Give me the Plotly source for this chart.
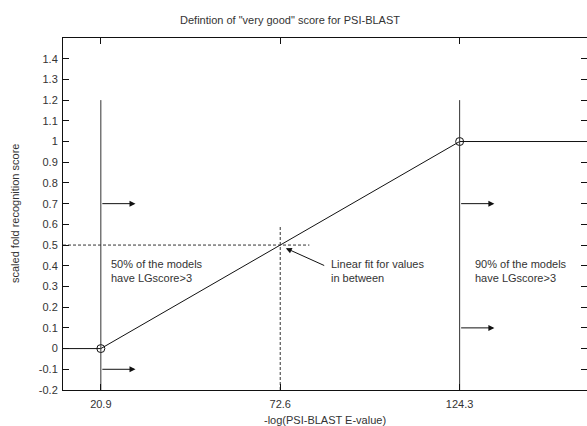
import plotly.graph_objects as go

# ---- data ----
curve_x = [10, 20.9, 124.3, 161]
curve_y = [0, 0, 1, 1]
marker_x = [20.9, 124.3]
marker_y = [0, 1]
solid_vlines_x = [20.9, 124.3]
solid_vline_y = [-0.2, 1.2]
dash_vline_x = 72.6
dash_vline_y = [-0.2, 0.59]
dash_hline_y = 0.5
dash_hline_x = [10, 81]
left_arrow_y = [0.7, -0.1]
right_arrow_y = [0.7, 0.1]
arrow_len = 10
x_tickvals = [20.9, 72.6, 124.3]
x_ticktext = ["20.9", "72.6", "124.3"]
y_tickvals = [-0.2, -0.1, 0, 0.1, 0.2, 0.3, 0.4, 0.5, 0.6, 0.7, 0.8, 0.9, 1.0, 1.1, 1.2, 1.3, 1.4]
y_ticktext = ["-0.2", "-0.1", "0", "0.1", "0.2", "0.3", "0.4", "0.5", "0.6", "0.7",
              "0.8", "0.9", "1", "1.1", "1.2", "1.3", "1.4"]
x_range = [10, 161]
y_range = [-0.2, 1.5]

FONT = "Liberation Sans, Arial, sans-serif"
TXT = "#333333"

fig = go.Figure()

fig.add_trace(go.Scatter(x=curve_x, y=curve_y, mode="lines",
                         line=dict(color="#111", width=1), showlegend=False, hoverinfo="skip"))
fig.add_trace(go.Scatter(x=marker_x, y=marker_y, mode="markers",
                         marker=dict(symbol="circle-open", size=8, color="#111", line=dict(width=1)),
                         showlegend=False, hoverinfo="skip"))
for vx in solid_vlines_x:
    fig.add_trace(go.Scatter(x=[vx, vx], y=solid_vline_y, mode="lines",
                             line=dict(color="#333", width=1), showlegend=False, hoverinfo="skip"))
fig.add_trace(go.Scatter(x=[dash_vline_x, dash_vline_x], y=dash_vline_y, mode="lines",
                         line=dict(color="#333", width=1, dash="3px,2px"), showlegend=False, hoverinfo="skip"))
fig.add_trace(go.Scatter(x=dash_hline_x, y=[dash_hline_y, dash_hline_y], mode="lines",
                         line=dict(color="#333", width=1, dash="3px,2px"), showlegend=False, hoverinfo="skip"))

annotations = []

def arrow(x0, y0, x1, y1):
    annotations.append(dict(x=x1, y=y1, ax=x0, ay=y0, xref="x", yref="y", axref="x", ayref="y",
                            text="", showarrow=True, arrowhead=2, arrowsize=1.2, arrowwidth=1,
                            arrowcolor="#111", standoff=0, startstandoff=0))

for yy in left_arrow_y:
    arrow(solid_vlines_x[0], yy, solid_vlines_x[0] + arrow_len, yy)
for yy in right_arrow_y:
    arrow(solid_vlines_x[1], yy, solid_vlines_x[1] + arrow_len, yy)
arrow(85.7, 0.398, 74.2, 0.485)

def label(x, y, text):
    annotations.append(dict(x=x, y=y, xref="x", yref="y", text=text, showarrow=False,
                            xanchor="left", yanchor="middle", align="left",
                            font=dict(family=FONT, size=11, color=TXT)))

label(23.3, 0.376, "50% of the models<br>have LGscore>3")
label(86.6, 0.376, "Linear fit for values<br>in between")
label(128.1, 0.376, "90% of the models<br>have LGscore>3")

annotations.append(dict(x=-48 / 524, y=0.5, xref="paper", yref="paper", text="scaled fold recognition score",
                        textangle=-90, showarrow=False, xanchor="center", yanchor="middle",
                        font=dict(family=FONT, size=11, color=TXT)))
annotations.append(dict(x=0.5, y=-30 / 352, xref="paper", yref="paper", text="-log(PSI-BLAST E-value)",
                        showarrow=False, xanchor="center", yanchor="middle",
                        font=dict(family=FONT, size=11, color=TXT)))

fig.update_layout(
    width=587, height=426,
    margin=dict(l=63, r=0, t=38, b=36),
    paper_bgcolor="white", plot_bgcolor="white",
    font=dict(family=FONT, size=11, color=TXT),
    title=dict(text='Defintion of "very good" score for PSI-BLAST', x=290 / 587, xref="container",
               xanchor="center", y=1 - 20 / 426, yref="container", yanchor="middle",
               font=dict(family=FONT, size=11, color=TXT)),
    annotations=annotations,
    showlegend=False,
)
fig.update_xaxes(range=x_range, tickvals=x_tickvals, ticktext=x_ticktext,
                 showgrid=False, zeroline=False, showline=True, linecolor="#111", linewidth=1,
                 mirror="ticks", ticks="inside", ticklen=6, tickcolor="#111", ticklabelstandoff=4)
fig.update_yaxes(range=y_range, tickvals=y_tickvals, ticktext=y_ticktext,
                 showgrid=False, zeroline=False, showline=True, linecolor="#111", linewidth=1,
                 mirror="ticks", ticks="inside", ticklen=6, tickcolor="#111", ticklabelstandoff=2)

fig.write_html("out.html", config={"displayModeBar": False},
               post_script="document.body.style.margin='0';document.body.style.overflow='hidden';")
